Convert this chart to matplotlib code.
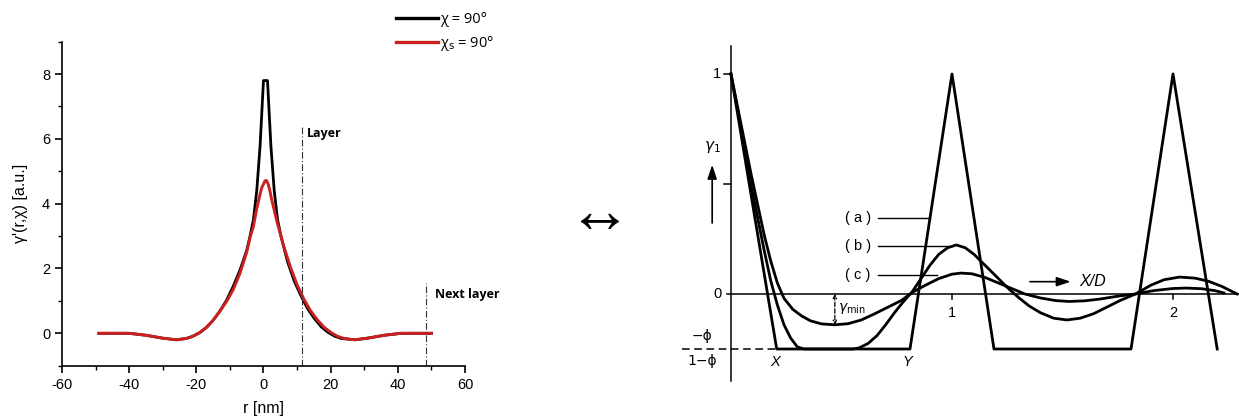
import numpy as np
import matplotlib
matplotlib.use("Agg")
import matplotlib.pyplot as plt

plt.rcParams["axes.unicode_minus"] = False

# left panel: correlation function (black chi = 90, red chi_s = 90)
r_black = [-49, -45, -40, -35, -30, -26, -23, -21, -19, -17, -15, -13, -11, -9, -7, -5,
           -4, -3, -2, -1, -0.4, 0, 1.2, 1.6, 2.2, 3.2, 4.2, 5.2, 7.2, 9.2, 11.2, 13.2,
           15.2, 17.2, 19.2, 21.2, 23.2, 27.2, 31, 36, 41, 46, 50]
g_black = [0, 0, 0, -0.06, -0.15, -0.2, -0.16, -0.09, 0.02, 0.18, 0.4, 0.68, 1.02, 1.45,
           1.95, 2.55, 3.0, 3.5, 4.4, 5.8, 7.0, 7.8, 7.8, 7.0, 5.8, 4.4, 3.5, 3.0, 2.2,
           1.6, 1.15, 0.75, 0.45, 0.2, 0.03, -0.09, -0.16, -0.2, -0.15, -0.06, 0, 0, 0]
r_red = [-49, -45, -40, -35, -30, -26, -23, -21, -19, -17, -15, -13, -11, -9, -7, -5,
         -4, -3, -2, -1, -0.5, 0, 0.3, 0.7, 1.0, 1.4, 1.8, 2.5, 3.2, 4, 6, 8, 10, 12, 14,
         16, 18, 20, 22, 24, 27.2, 31, 36, 41, 46, 50]
g_red = [0, 0, 0, -0.06, -0.15, -0.2, -0.16, -0.09, 0.02, 0.18, 0.4, 0.68, 0.98, 1.35,
         1.85, 2.5, 2.95, 3.3, 3.85, 4.3, 4.5, 4.6, 4.68, 4.72, 4.7, 4.6, 4.45, 4.1, 3.8,
         3.45, 2.7, 2.05, 1.5, 1.06, 0.7, 0.42, 0.19, 0.03, -0.09, -0.16, -0.2, -0.15,
         -0.06, 0, 0, 0]
layer_r = 11.5
next_layer_r = 48.3

# right panel: schematic correlation functions
xa = [0, 0.207, 0.81, 1.0, 1.19, 1.81, 2.0, 2.2]
ya = [1, -0.25, -0.25, 1, -0.25, -0.25, 1, -0.25]
xb = [0, 0.03, 0.06, 0.09, 0.12, 0.15, 0.18, 0.21, 0.24, 0.27, 0.30, 0.33, 0.55, 0.58,
      0.62, 0.66, 0.70, 0.74, 0.78, 0.82, 0.86, 0.90, 0.94, 0.98, 1.02, 1.06, 1.10, 1.15,
      1.20, 1.25, 1.30, 1.35, 1.40, 1.46, 1.52, 1.58, 1.64, 1.70, 1.76, 1.83, 1.90, 1.96,
      2.03, 2.10, 2.16, 2.22, 2.26, 2.29]
yb = [1, 0.84, 0.67, 0.5, 0.35, 0.2, 0.06, -0.05, -0.14, -0.2, -0.24, -0.25, -0.25, -0.245,
      -0.225, -0.19, -0.14, -0.085, -0.035, 0.01, 0.07, 0.13, 0.18, 0.21, 0.223, 0.21, 0.18,
      0.13, 0.08, 0.03, -0.015, -0.055, -0.085, -0.11, -0.118, -0.11, -0.09, -0.06, -0.03,
      0.0, 0.04, 0.065, 0.077, 0.072, 0.058, 0.035, 0.015, 0.0]
xc = [0, 0.03, 0.06, 0.09, 0.12, 0.15, 0.18, 0.21, 0.24, 0.28, 0.32, 0.36, 0.41, 0.47,
      0.53, 0.59, 0.65, 0.71, 0.77, 0.825, 0.88, 0.94, 1.0, 1.04, 1.09, 1.15, 1.21, 1.27,
      1.33, 1.40, 1.47, 1.53, 1.60, 1.67, 1.75, 1.83, 1.91, 2.0, 2.06, 2.13, 2.19, 2.23]
yc = [1, 0.85, 0.70, 0.55, 0.41, 0.27, 0.15, 0.05, -0.02, -0.07, -0.1, -0.122, -0.136,
      -0.14, -0.135, -0.118, -0.09, -0.06, -0.03, 0.01, 0.04, 0.07, 0.09, 0.095, 0.092,
      0.075, 0.05, 0.025, 0.0, -0.018, -0.03, -0.034, -0.031, -0.023, -0.01, 0.0, 0.015,
      0.025, 0.027, 0.024, 0.015, 0.005]
phi_level = -0.25
gamma_min_x = 0.47
gamma_min_y = -0.14

fig = plt.figure(figsize=(12.39, 4.19), dpi=100)

# ---- left panel
ax = fig.add_axes([0.0500, 0.1272, 0.3253, 0.7733])
tickfont = "Liberation Sans"
l1, = ax.plot(r_black, g_black, color="black", lw=2.0, label="χ = 90°")
l2, = ax.plot(r_red, g_red, color="#cc1f1f", lw=2.1, label="χ$_\\mathrm{s}$ = 90°")
ax.plot([layer_r, layer_r], [-1, 6.4], color="#333333", lw=0.8, ls=(0, (6, 2, 1, 2)))
ax.plot([next_layer_r, next_layer_r], [-1, 1.55], color="#333333", lw=0.8, ls=(0, (6, 2, 1, 2)))
ax.text(13, 6.05, "Layer", fontsize=9, fontweight="bold", family="Open Sans")
ax.text(51, 1.1, "Next layer", fontsize=9, fontweight="bold", family="Open Sans", clip_on=False)

ax.set_xlim(-60, 60)
ax.set_ylim(-1, 9)
ax.set_xticks(range(-60, 61, 20))
ax.set_xticks(range(-50, 51, 20), minor=True)
ax.set_yticks([0, 2, 4, 6, 8])
ax.set_yticks([-1, 1, 3, 5, 7, 9], minor=True)
for s in ["top", "right"]:
    ax.spines[s].set_visible(False)
for s in ["left", "bottom"]:
    ax.spines[s].set_linewidth(1.2)
ax.tick_params(which="major", length=5, width=1.2, labelsize=10.5)
ax.tick_params(which="minor", length=3, width=1.0)
for lab in ax.get_xticklabels() + ax.get_yticklabels():
    lab.set_family(tickfont)
ax.set_xlabel("r [nm]", fontsize=11.5, family=tickfont, labelpad=7)
ax.set_ylabel("γ'(r,χ) [a.u.]", fontsize=11.5, family=tickfont, labelpad=10)

leg = fig.legend(handles=[l1, l2], loc="upper left", bbox_to_anchor=(0.3195, 0.972),
                 frameon=False, handlelength=2.9, handletextpad=0.1, labelspacing=0.5,
                 borderpad=0, borderaxespad=0, prop={"family": "Open Sans", "size": 10.5})
for h in leg.legend_handles:
    h.set_linewidth(2.4)

# ---- centre arrow
fig.text(0.4845, 0.486, "↔", fontsize=46, ha="center", va="center", family="Liberation Sans")

# ---- right panel
ax2 = fig.add_axes([0.5165, 0.04535, 0.4835, 0.8831])
ax2.set_xlim(-0.4118, 2.2986)
ax2.set_ylim(-0.4818, 1.2)
ax2.axis("off")
rf = "Liberation Sans"
ax2.plot([0, 0], [-0.394, 1.127], color="black", lw=1.1)
ax2.plot([-0.02, 2.3], [0, 0], color="black", lw=1.1)
for yt in [1.0, 0.5]:
    ax2.plot([-0.03, 0], [yt, yt], color="black", lw=1.1)
for xt in [1, 2]:
    ax2.plot([xt, xt], [0, -0.025], color="black", lw=1.1)
ax2.plot([-0.22, 0.2], [phi_level, phi_level], color="black", lw=1.1, ls=(0, (5, 3)))

ax2.plot(xa, ya, color="black", lw=2.0)
ax2.plot(xb, yb, color="black", lw=2.0)
ax2.plot(xc, yc, color="black", lw=2.0)

ax2.text(-0.065, 1.0, "1", fontsize=10.5, ha="center", va="center", family=rf)
ax2.text(-0.059, 0.0, "0", fontsize=10.5, ha="center", va="center", family=rf)
ax2.text(1.0, -0.087, "1", fontsize=10.5, ha="center", va="center", family=rf)
ax2.text(2.0, -0.087, "2", fontsize=10.5, ha="center", va="center", family=rf)
ax2.text(-0.13, -0.19, "−ϕ", fontsize=10, ha="center", va="center", family="DejaVu Sans")
ax2.text(-0.13, -0.305, "1−ϕ", fontsize=10, ha="center", va="center", family="DejaVu Sans")
ax2.text(-0.082, 0.67, "$\\gamma_1$", fontsize=11, ha="center", va="center")
ax2.annotate("", xy=(-0.085, 0.60), xytext=(-0.085, 0.31),
             arrowprops=dict(arrowstyle="-|>,head_length=0.6,head_width=0.2", lw=1.2,
                             color="black", mutation_scale=14))
ax2.text(0.2, -0.31, "X", fontsize=10.5, ha="center", va="center", style="italic", family=rf)
ax2.text(0.8, -0.31, "Y", fontsize=10.5, ha="center", va="center", style="italic", family=rf)

for lab, yl, xend in [("( a )", 0.345, 0.90), ("( b )", 0.218, 1.0), ("( c )", 0.086, 0.93)]:
    ax2.text(0.575, yl, lab, fontsize=10.5, ha="center", va="center", family=rf)
    ax2.plot([0.665, xend], [yl, yl], color="black", lw=1.0)

ax2.annotate("", xy=(1.55, 0.056), xytext=(1.34, 0.056),
             arrowprops=dict(arrowstyle="-|>,head_length=0.6,head_width=0.2", lw=1.2,
                             color="black", mutation_scale=14))
ax2.text(1.575, 0.056, "X/D", fontsize=11.5, ha="left", va="center", style="italic", family=rf)

ax2.annotate("", xy=(gamma_min_x, gamma_min_y), xytext=(gamma_min_x, 0),
             arrowprops=dict(arrowstyle="<->", lw=0.9, ls="--", color="black", mutation_scale=6,
                             shrinkA=0, shrinkB=0))
ax2.text(gamma_min_x + 0.015, -0.065, "$\\gamma_{\\rm min}$", fontsize=10, ha="left", va="center")

fig.savefig("out.png", dpi=100)
